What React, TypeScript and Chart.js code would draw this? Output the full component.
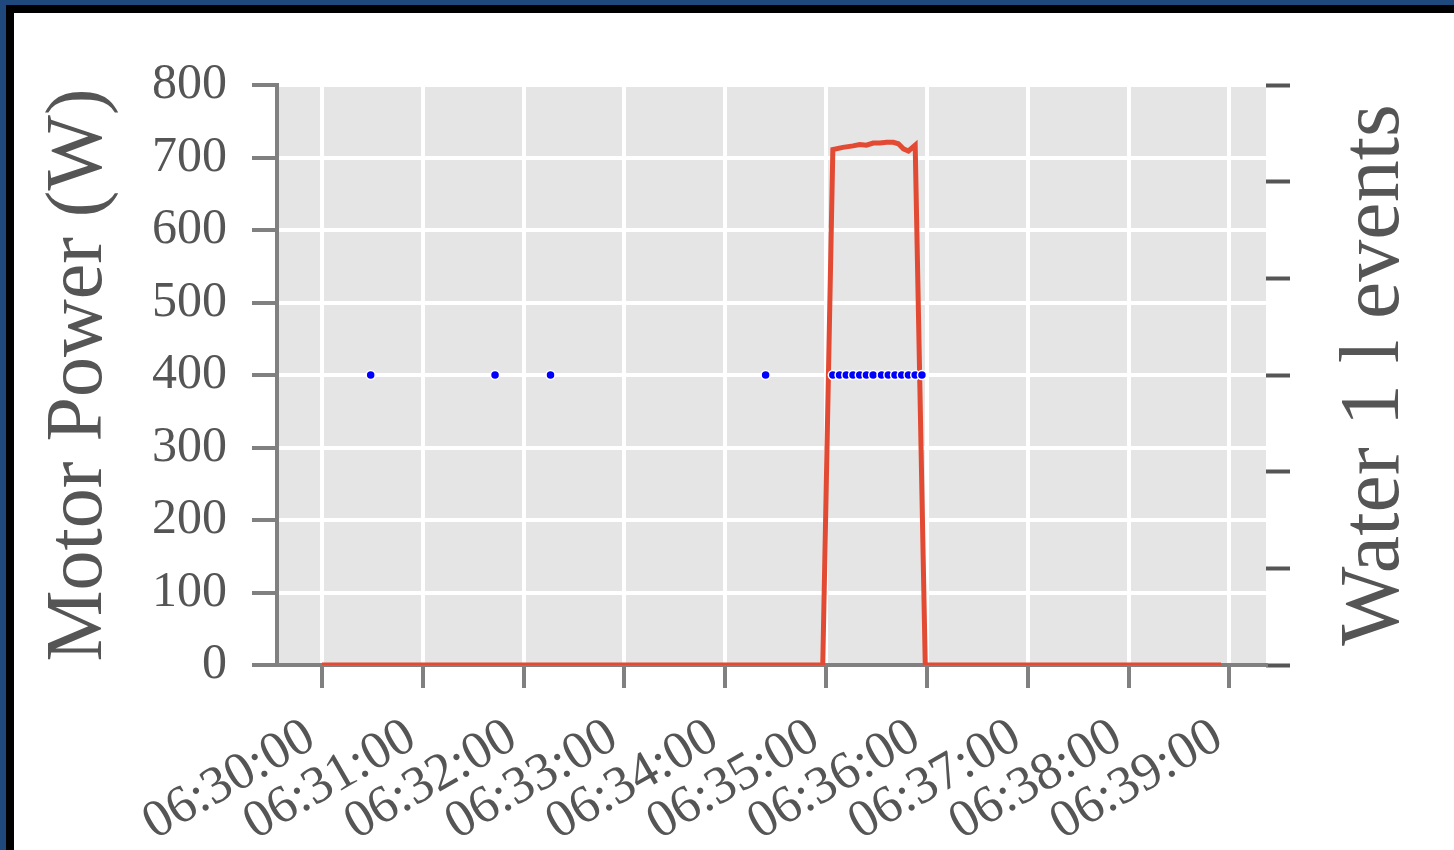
import React, { useEffect, useRef } from "react";
import { Chart, registerables } from "chart.js";

Chart.register(...registerables);

// Motor power samples (time, watts)
const powerTimes = [
  "06:30:00", "06:34:58", "06:35:04", "06:35:10", "06:35:16", "06:35:20",
  "06:35:24", "06:35:28", "06:35:32", "06:35:36", "06:35:40", "06:35:43",
  "06:35:46", "06:35:49", "06:35:53", "06:35:59", "06:38:55",
];
const powerValues = [
  0, 0, 711, 714, 716, 718,
  717, 720, 720, 721, 721, 719,
  712, 709, 717, 0, 0,
];

// Water 1 l events (time of each event)
const eventTimes = [
  "06:30:29", "06:31:43", "06:32:16", "06:34:24",
  "06:35:04", "06:35:08", "06:35:12", "06:35:16", "06:35:20", "06:35:24",
  "06:35:28", "06:35:33", "06:35:37", "06:35:41", "06:35:45", "06:35:49",
  "06:35:53", "06:35:57",
];
const eventLevel = 3;

const xTickLabels = [
  "06:30:00", "06:31:00", "06:32:00", "06:33:00", "06:34:00",
  "06:35:00", "06:36:00", "06:37:00", "06:38:00", "06:39:00",
];

const FONT = '"Liberation Serif", "DejaVu Serif", serif';
const TEXT = "#555555";
const AXIS = "#808080";

function toSec(t: string): number {
  const [h, m, s] = t.split(":").map(Number);
  return h * 3600 + m * 60 + s - (6 * 3600 + 30 * 60);
}

const bgPlugin = {
  id: "bgPlugin",
  beforeDraw(chart: any) {
    const { ctx, chartArea } = chart;
    ctx.save();
    ctx.fillStyle = "#e5e5e5";
    ctx.fillRect(chartArea.left, chartArea.top, chartArea.right - chartArea.left, chartArea.bottom - chartArea.top);
    ctx.restore();
  },
};

const rightTitlePlugin = {
  id: "rightTitlePlugin",
  afterDraw(chart: any) {
    const { ctx, chartArea } = chart;
    const s = chart.scales.y1;
    ctx.save();
    ctx.font = `84px ${FONT}`;
    ctx.fillStyle = TEXT;
    ctx.textAlign = "center";
    ctx.textBaseline = "middle";
    ctx.translate(s.right - 78, (chartArea.top + chartArea.bottom) / 2);
    ctx.rotate(-Math.PI / 2);
    ctx.fillText("Water 1 l events", 0, 0);
    ctx.restore();
  },
};

export default function App() {
  const ref = useRef<HTMLCanvasElement>(null);

  useEffect(() => {
    if (!ref.current) return;
    const chart = new Chart(ref.current, {
      type: "line",
      data: {
        datasets: [
          {
            type: "scatter",
            label: "Water 1 l events",
            data: eventTimes.map((t) => ({ x: toSec(t), y: eventLevel })),
            yAxisID: "y1",
            pointRadius: 4.5,
            pointBackgroundColor: "#0000ff",
            pointBorderColor: "#ffffff",
            pointBorderWidth: 1.5,
            showLine: false,
          } as any,
          {
            label: "Motor Power (W)",
            data: powerTimes.map((t, i) => ({ x: toSec(t), y: powerValues[i] })),
            yAxisID: "y",
            borderColor: "#e24a33",
            borderWidth: 5,
            pointRadius: 0,
            tension: 0,
            fill: false,
          },
        ],
      },
      options: {
        responsive: false,
        animation: false,
        layout: { padding: { top: 72, left: 0, right: 0, bottom: 0 } },
        plugins: { legend: { display: false }, tooltip: { enabled: false } },
        scales: {
          x: {
            type: "linear",
            min: -26.75,
            max: 561.75,
            z: 1,
            afterBuildTicks: (axis: any) => {
              axis.ticks = xTickLabels.map((l) => ({ value: toSec(l) }));
            },
            afterFit: (axis: any) => {
              axis.height = 185;
            },
            ticks: {
              autoSkip: false,
              minRotation: 30,
              maxRotation: 30,
              padding: 18,
              labelOffset: -11,
              color: TEXT,
              font: { family: FONT, size: 53 },
              callback: (_v: any, i: number) => xTickLabels[i],
            },
            grid: {
              color: "#ffffff",
              lineWidth: 4,
              tickColor: AXIS,
              tickWidth: 4,
              tickLength: 23,
            },
            border: { display: true, color: AXIS, width: 4 },
          },
          y: {
            type: "linear",
            position: "left",
            min: 0,
            max: 800,
            afterFit: (axis: any) => {
              axis.width = 263;
            },
            ticks: {
              stepSize: 100,
              padding: 25,
              color: TEXT,
              font: { family: FONT, size: 50 },
            },
            grid: {
              color: "#ffffff",
              lineWidth: 4,
              tickColor: AXIS,
              tickWidth: 4,
              tickLength: 25,
            },
            border: { display: true, color: AXIS, width: 4 },
            title: {
              display: true,
              text: "Motor Power (W)",
              color: TEXT,
              font: { family: FONT, size: 80 },
              padding: { top: 18, bottom: 0 },
            },
          },
          y1: {
            type: "linear",
            position: "right",
            min: 0,
            max: 6,
            afterFit: (axis: any) => {
              axis.width = 188;
            },
            ticks: { stepSize: 1, display: false },
            grid: {
              drawOnChartArea: false,
              tickColor: "#555555",
              tickWidth: 4,
              tickLength: 24,
            },
            border: { display: false },
          },
        },
      },
      plugins: [bgPlugin, rightTitlePlugin],
    } as any);
    return () => chart.destroy();
  }, []);

  return (
    <div style={{ position: "absolute", left: 0, top: 0, width: 1454, height: 850, background: "#1f497d", boxSizing: "border-box", paddingTop: 5, paddingLeft: 6, overflow: "hidden" }}>
      <div style={{ background: "#000000", paddingTop: 8, paddingLeft: 8, width: 1448, height: 845, boxSizing: "border-box" }}>
        <div style={{ background: "#ffffff", width: 1440, height: 837 }}>
          <canvas ref={ref} width={1440} height={837} style={{ display: "block" }} />
        </div>
      </div>
    </div>
  );
}
